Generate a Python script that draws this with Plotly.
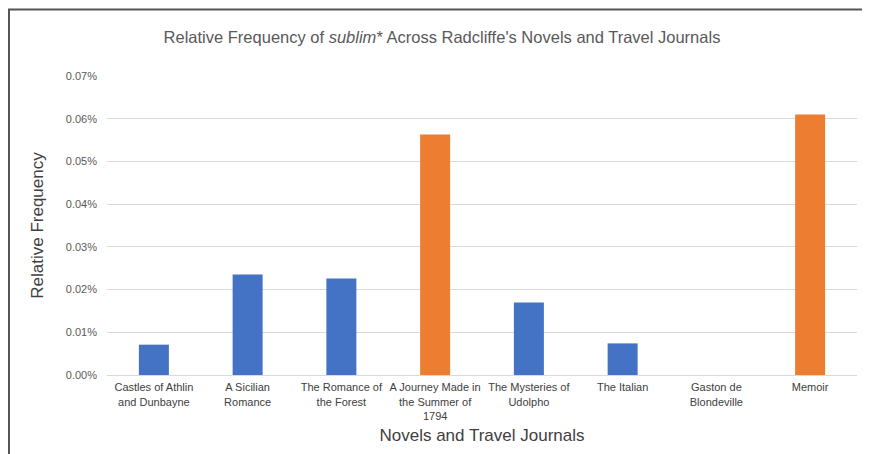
import plotly.graph_objects as go

categories = [
    "Castles of Athlin<br>and Dunbayne",
    "A Sicilian<br>Romance",
    "The Romance of<br>the Forest",
    "A Journey Made in<br>the Summer of<br>1794",
    "The Mysteries of<br>Udolpho",
    "The Italian",
    "Gaston de<br>Blondeville",
    "Memoir",
]
# relative frequency in percent
values = [0.0071, 0.0235, 0.0226, 0.0563, 0.0170, 0.0074, 0.0, 0.0610]
kinds = ["novel", "novel", "novel", "journal", "novel", "novel", "novel", "journal"]
kind_colors = {"novel": "#4472C4", "journal": "#ED7D31"}
y_ticks = [0.00, 0.01, 0.02, 0.03, 0.04, 0.05, 0.06, 0.07]

# the page body has an 8px margin; the figure is sized to fill the visible window
OFF = 8
W, H = 870 - OFF, 454 - OFF
L, R, T = 107 - OFF, 13, 76 - OFF
B = H - T - 299

fig = go.Figure(
    go.Bar(
        x=categories,
        y=values,
        marker=dict(color=[kind_colors[k] for k in kinds], line=dict(width=0)),
        width=0.32,
        hoverinfo="x+y",
    )
)

font = "Liberation Sans, Arial, sans-serif"

fig.update_layout(
    width=W,
    height=H,
    margin=dict(l=L, r=R, t=T, b=B),
    paper_bgcolor="white",
    plot_bgcolor="white",
    showlegend=False,
    font=dict(family=font, color="#595959"),
    title=dict(
        text="Relative Frequency of <i>sublim</i>* Across Radcliffe's Novels and Travel Journals",
        x=(442 - OFF) / W,
        xanchor="center",
        y=1 - (37 - OFF) / H,
        yanchor="middle",
        font=dict(size=16.5, color="#595959", family=font),
    ),
    xaxis=dict(
        tickfont=dict(size=11, color="#404040", family=font),
        showgrid=False,
        showline=True,
        linecolor="#d9d9d9",
        linewidth=1,
        ticks="",
        tickangle=0,
        ticklabelstandoff=2,
        title=dict(
            text="Novels and Travel Journals",
            font=dict(size=17, color="#404040", family=font),
            standoff=8,
        ),
    ),
    yaxis=dict(
        range=[0, 0.07],
        tickvals=y_ticks,
        ticktext=[f"{v:.2f}%" for v in y_ticks],
        tickfont=dict(size=11, color="#595959", family=font),
        showgrid=True,
        gridcolor="#d9d9d9",
        gridwidth=1,
        zeroline=False,
        showline=False,
        ticks="",
        ticklen=0,
        ticklabelstandoff=9,
        title=dict(
            text="Relative Frequency",
            font=dict(size=17, color="#404040", family=font),
            standoff=17,
        ),
    ),
)

# frame lines (top and left) around the chart image
pw = W - L - R
ph = H - T - B
def px_x(x):
    return (x - OFF - L) / pw
def px_y(y):
    return 1 - (y - OFF - T) / ph

fig.add_shape(type="line", xref="paper", yref="paper",
              x0=px_x(8), x1=px_x(880), y0=px_y(9.5), y1=px_y(9.5),
              line=dict(color="#555555", width=2))
fig.add_shape(type="line", xref="paper", yref="paper",
              x0=px_x(9), x1=px_x(9), y0=px_y(9), y1=px_y(470),
              line=dict(color="#555555", width=2))

fig.write_html("out.html")
